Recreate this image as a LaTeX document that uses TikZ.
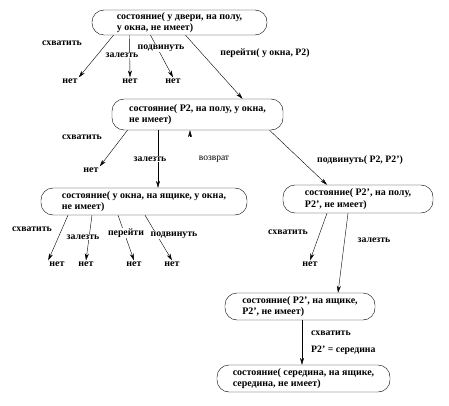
\documentclass[tikz,border=0pt]{standalone}
\usepackage{fontspec}
\setmainfont{Liberation Serif}
\usetikzlibrary{arrows.meta}

\begin{document}
\begin{tikzpicture}[x=1pt, y=-1pt,
    state/.style={draw, rounded corners=12pt, align=left, inner xsep=4pt, inner ysep=1pt,
        font=\fontsize{10}{11.5}\selectfont\bfseries},
    lbl/.style={fill=white, inner sep=1pt, font=\fontsize{9.8}{11}\selectfont\bfseries},
    no/.style={inner sep=1pt, font=\fontsize{10}{11}\selectfont\bfseries},
    arr/.style={-{Stealth[length=7pt,width=4pt]}, line width=0.4pt}]

            \useasboundingbox (0,0) rectangle (449,406);

            % states
            \node[state, minimum width=175pt, minimum height=25pt] (s0) at (179.5,22.5)
                {состояние( у двери, на полу,\\ у окна, не имеет)};
            \node[state, minimum width=171pt, minimum height=31pt] (s1) at (197.5,114.5)
                {состояние( P2, на полу, у окна,\\ не имеет)};
            \node[state, minimum width=206pt, minimum height=27pt] (s2) at (144,201.5)
                {состояние( у окна, на ящике, у окна,\\ не имеет)};
            \node[state, minimum width=150pt, minimum height=28pt] (s3) at (358,199)
                {состояние( P2', на полу,\\ P2', не имеет)};
            \node[state, minimum width=150pt, minimum height=27pt] (s4) at (300,306.5)
                {состояние( P2', на ящике,\\ P2', не имеет)};
            \node[state, minimum width=173pt, minimum height=27pt] (s5) at (303.5,378.5)
                {состояние( середина, на ящике,\\ середина, не имеет)};

            % dead ends
            \node[no] (n1) at (70,81) {нет};
            \node[no] (n2) at (130,81) {нет};
            \node[no] (n3) at (173,81) {нет};
            \node[no] (n4) at (91,170) {нет};
            \node[no] (n5) at (57,264) {нет};
            \node[no] (n6) at (86,264) {нет};
            \node[no] (n7) at (134,264) {нет};
            \node[no] (n8) at (172,264) {нет};
            \node[no] (n9) at (310,264) {нет};
            \coordinate (ret) at (190,137);

            % moves
            \draw[arr] ([xshift=-66pt]s0.south) -- (n1.north east);
            \draw[arr] ([xshift=-50pt]s0.south) -- (n2.north);
            \draw[arr] ([xshift=-29pt]s0.south) -- (n3.north);
            \draw[arr] ([xshift=6pt]s0.south) -- ([xshift=45pt]s1.north);

            \draw[arr] ([xshift=-70pt]s1.south) -- (n4.north east);
            \draw[arr] ([xshift=-39.5pt]s1.south) -- ([xshift=-39.5pt]s1.south |- s2.north);
            \draw[arr] (ret) -- (ret |- s1.south);
            \draw[arr] ([xshift=72pt]s1.south) -- ([xshift=-31pt]s3.north);

            \draw[arr] ([xshift=-76pt]s2.south) -- (n5.north west);
            \draw[arr] ([xshift=-52pt]s2.south) -- (n6.north);
            \draw[arr] ([xshift=-26pt]s2.south) -- (n7.north);
            \draw[arr] ([xshift=1pt]s2.south) -- (n8.north);

            \draw[arr] ([xshift=-31pt]s3.south) -- (n9.north);
            \draw[arr] ([xshift=-10pt]s3.south) -- ([xshift=38pt]s4.north);

            \draw[arr] ([xshift=2pt]s4.south) -- ([xshift=2pt]s4.south |- s5.north);

            % move labels
            \node[lbl] (l1) at (62,43) {схватить};
            \node[lbl] (l2) at (122,55) {залезть};
            \node[lbl] (l3) at (161,48) {подвинуть};
            \node[lbl] (l4) at (265,53) {перейти( у окна, P2)};

            \node[lbl] (l5) at (82,137) {схватить};
            \node[lbl] (l6) at (150,159) {залезть};
            \node[lbl, font=\fontsize{9.5}{11}\selectfont] (l7) at (214,159) {возврат};
            \node[lbl] (l8) at (360,160) {подвинуть( P2, P2')};

            \node[lbl] (l9) at (32,229) {схватить};
            \node[lbl] (l10) at (83,237) {залезть};
            \node[lbl] (l11) at (126,233) {перейти};
            \node[lbl] (l12) at (174,235) {подвинуть};

            \node[lbl] (l13) at (288,232) {схватить};
            \node[lbl] (l14) at (374,240) {залезть};

            \node[lbl, anchor=west] (l15) at (310,333) {схватить};
            \node[lbl, anchor=west] (l16) at (310,350) {P2' = середина};

        \end{tikzpicture}
\end{document}
